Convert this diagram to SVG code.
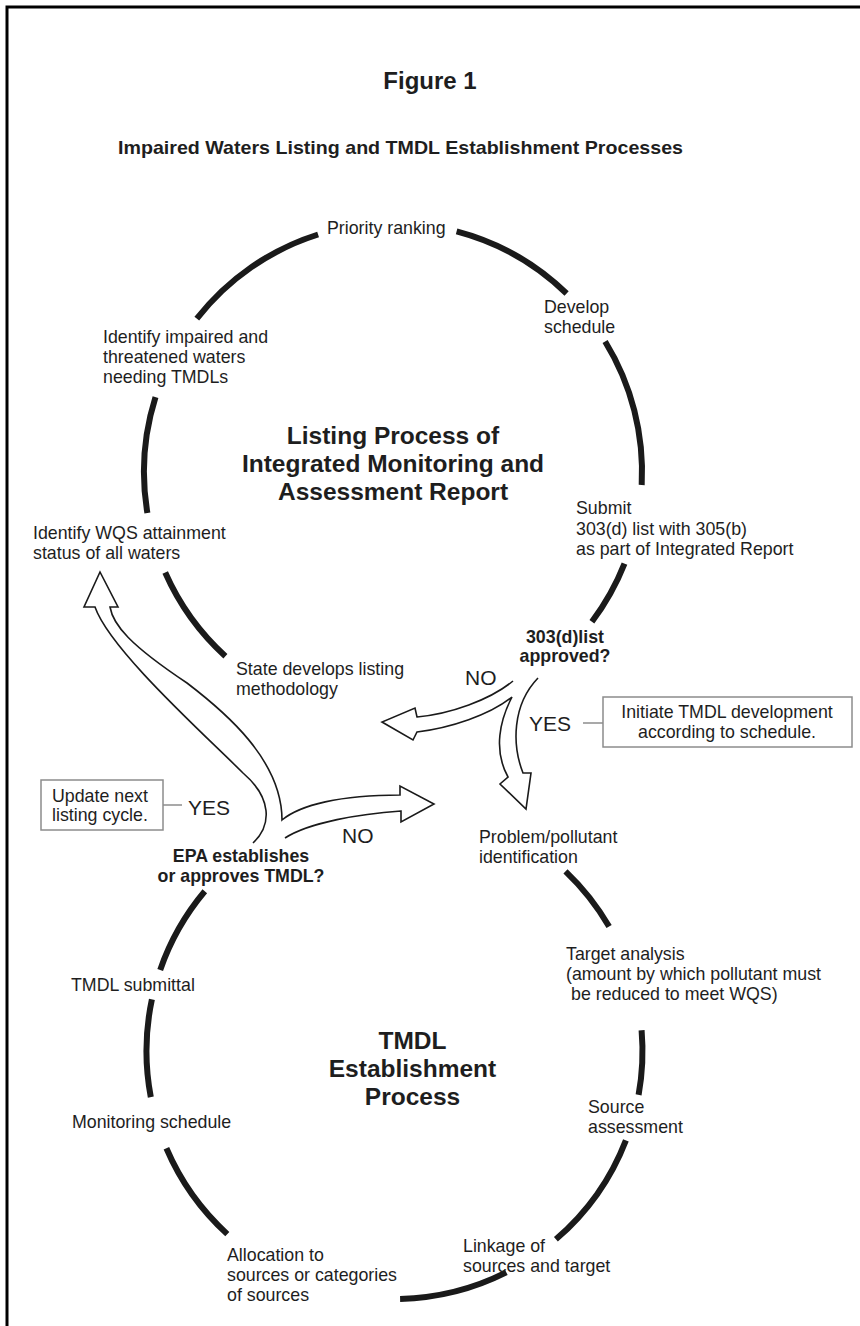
<svg xmlns="http://www.w3.org/2000/svg" width="860" height="1326" viewBox="0 0 860 1326">
<style>
  .t { font-family: "Liberation Sans", Arial, sans-serif; font-size: 17.8px; fill: #1e1e1e; }
  .b { font-weight: bold; }
  .fig { font-size: 24px; }
  .sub { font-size: 18.5px; }
  .big { font-family: "Liberation Sans", Arial, sans-serif; font-size: 24.5px; font-weight: bold; fill: #1e1e1e; text-anchor: middle; }
  .yn { font-family: "Liberation Sans", Arial, sans-serif; font-size: 21px; fill: #1e1e1e; }
  .mid { text-anchor: middle; }
  .arc { fill: none; stroke: #1a1a1a; stroke-width: 6; stroke-linecap: butt; }
  .arrow { fill: #fff; stroke: #1a1a1a; stroke-width: 1.6; stroke-linejoin: miter; }
  .box { fill: #fff; stroke: #8c8c8c; stroke-width: 1.5; }
  .lead { stroke: #8c8c8c; stroke-width: 1.5; }
</style>
<rect x="0" y="0" width="860" height="1326" fill="#fff"/>
<polyline points="7,1326 7,7 860,7" fill="none" stroke="#000" stroke-width="3"/>

<g id="title">
  <text class="t b mid fig" x="430" y="89">Figure 1</text>
  <text class="t b sub" x="118" y="154" textLength="565" lengthAdjust="spacingAndGlyphs">Impaired Waters Listing and TMDL Establishment Processes</text>
</g>

<g id="connectors">
  <!-- top cycle arcs -->
  <path class="arc" d="M196.8,318.7 A249,249 0 0 1 318.1,234.5"/>
  <path class="arc" d="M456.6,231.3 A249,249 0 0 1 566.6,293.5"/>
  <path class="arc" d="M605.1,341.5 A249,249 0 0 1 641.7,485"/>
  <path class="arc" d="M624.5,563.7 A249,249 0 0 1 591.9,621.8"/>
  <path class="arc" d="M147.4,513.1 A249,249 0 0 1 155.5,397.1"/>
  <path class="arc" d="M225.4,656.2 A249,249 0 0 1 165.2,572.5"/>
  <!-- bottom cycle arcs -->
  <path class="arc" d="M160.2,969.9 A248,248 0 0 1 204.8,891.3"/>
  <path class="arc" d="M150.8,1097.1 A248,248 0 0 1 151.9,999.4"/>
  <path class="arc" d="M227.3,1234.1 A248,248 0 0 1 166.4,1148.3"/>
  <path class="arc" d="M506.3,1272.4 A248,248 0 0 1 400.1,1298.9"/>
  <path class="arc" d="M625.9,1140.3 A248,248 0 0 1 555.9,1239.3"/>
  <path class="arc" d="M641.6,1030.2 A248,248 0 0 1 638.6,1094.9"/>
  <path class="arc" d="M565.5,871.4 A248,248 0 0 1 609.1,926.6"/>
  <!-- decision arrows -->
  <path id="arrow-listing-decision" class="arrow" d="M513,681 C490,700 450,714 417,717 L415,708 L382,722 L413,740 L417,732 C450,728 490,715 512,697 C500,720 493,750 508,777 L500,784 L526,809 L531,773 L523,773 C512,745 512,705 538,678"/>
  <path id="arrow-tmdl-decision" class="arrow" d="M253,843 C272,825 272,798 243,773 C205,735 110,650 95,607 L84,607 L100,572 L118,607 L110,607 C113,625 130,645 187,683 C225,712 282,760 282,820 C300,805 340,795 400,795 L400,786 L434,804 L401,822 L401,811 C360,814 310,822 285,838"/>
  <!-- callout leaders -->
  <line class="lead" x1="583" y1="723" x2="603" y2="723"/>
  <line class="lead" x1="163" y1="805" x2="182" y2="805"/>
</g>

<g id="listing-title">
  <text class="big" x="393" y="444">Listing Process of</text>
  <text class="big" x="393" y="472">Integrated Monitoring and</text>
  <text class="big" x="393" y="500">Assessment Report</text>
</g>

<g id="priority-ranking"><text class="t" x="327" y="234">Priority ranking</text></g>
<g id="develop-schedule">
  <text class="t" x="544" y="313">Develop</text>
  <text class="t" x="544" y="333">schedule</text>
</g>
<g id="identify-impaired">
  <text class="t" x="103" y="343">Identify impaired and</text>
  <text class="t" x="103" y="363">threatened waters</text>
  <text class="t" x="103" y="383">needing TMDLs</text>
</g>
<g id="identify-wqs">
  <text class="t" x="33" y="539">Identify WQS attainment</text>
  <text class="t" x="33" y="559">status of all waters</text>
</g>
<g id="submit">
  <text class="t" x="576" y="514">Submit</text>
  <text class="t" x="576" y="535">303(d) list with 305(b)</text>
  <text class="t" x="576" y="555">as part of Integrated Report</text>
</g>
<g id="state-develops">
  <text class="t" x="236" y="675">State develops listing</text>
  <text class="t" x="236" y="695">methodology</text>
</g>
<g id="list-approved">
  <text class="t b mid" x="565" y="643">303(d)list</text>
  <text class="t b mid" x="565" y="662">approved?</text>
</g>
<g id="no-upper"><text class="yn" x="465" y="685">NO</text></g>
<g id="yes-upper"><text class="yn" x="529" y="731">YES</text></g>
<g id="initiate-box">
  <rect class="box" x="603" y="697" width="249" height="50"/>
  <text class="t mid" x="727" y="718">Initiate TMDL development</text>
  <text class="t mid" x="727" y="738">according to schedule.</text>
</g>
<g id="update-box">
  <rect class="box" x="41" y="780" width="122" height="50"/>
  <text class="t" x="52" y="802">Update next</text>
  <text class="t" x="52" y="821">listing cycle.</text>
</g>
<g id="yes-lower"><text class="yn" x="188" y="815">YES</text></g>
<g id="no-lower"><text class="yn" x="342" y="843">NO</text></g>
<g id="epa-decision">
  <text class="t b mid" x="241" y="862">EPA establishes</text>
  <text class="t b mid" x="241" y="882">or approves TMDL?</text>
</g>
<g id="problem-id">
  <text class="t" x="479" y="843">Problem/pollutant</text>
  <text class="t" x="479" y="863">identification</text>
</g>
<g id="target-analysis">
  <text class="t" x="566" y="960">Target analysis</text>
  <text class="t" x="566" y="980">(amount by which pollutant must</text>
  <text class="t" x="571" y="1000">be reduced to meet WQS)</text>
</g>
<g id="tmdl-title">
  <text class="big" x="412.5" y="1049">TMDL</text>
  <text class="big" x="412.5" y="1077">Establishment</text>
  <text class="big" x="412.5" y="1105">Process</text>
</g>
<g id="tmdl-submittal"><text class="t" x="71" y="991">TMDL submittal</text></g>
<g id="monitoring-schedule"><text class="t" x="72" y="1128">Monitoring schedule</text></g>
<g id="source-assessment">
  <text class="t" x="588" y="1113">Source</text>
  <text class="t" x="588" y="1133">assessment</text>
</g>
<g id="linkage">
  <text class="t" x="463" y="1252">Linkage of</text>
  <text class="t" x="463" y="1272">sources and target</text>
</g>
<g id="allocation">
  <text class="t" x="227" y="1261">Allocation to</text>
  <text class="t" x="227" y="1281">sources or categories</text>
  <text class="t" x="227" y="1301">of sources</text>
</g>
</svg>
